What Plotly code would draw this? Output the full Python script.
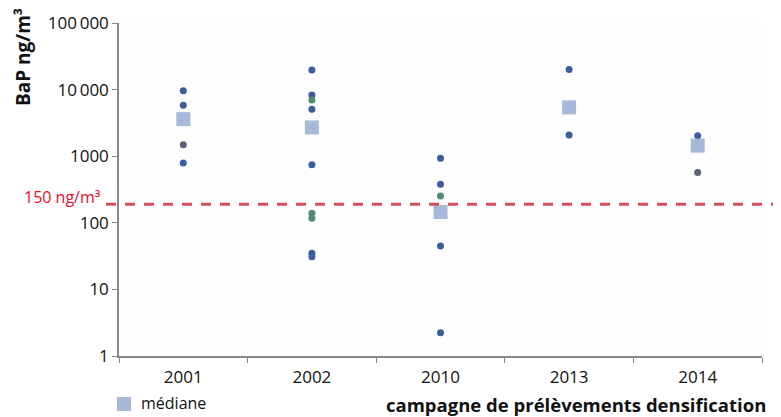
import plotly.graph_objects as go

categories = ["2001", "2002", "2010", "2013", "2014"]

# individual measurements (BaP ng/m3), split by marker colour
blue_x = ["2001", "2001", "2001", "2002", "2002", "2002", "2002", "2002", "2002",
          "2010", "2010", "2010", "2010", "2013", "2013", "2014"]
blue_y = [9600, 5800, 790, 19700, 8300, 5050, 745, 35, 31,
          935, 380, 45, 2.24, 20000, 2080, 2030]
grey_x = ["2001", "2014"]
grey_y = [1490, 570]
green_x = ["2002", "2002", "2002", "2010"]
green_y = [6960, 139, 117, 253]

median_x = ["2001", "2002", "2010", "2013", "2014"]
median_y = [3600, 2700, 145, 5400, 1440]

threshold_line = 190
threshold_label = "150 ng/m³"

y_tickvals = [1, 10, 100, 1000, 10000, 100000]
y_ticktext = ["1", "10", "100", "1000", "10\u2009000", "100\u2009000"]

FONT = "Open Sans"
PW = 643.0   # plot width in px
PH = 333.0   # plot height in px

def px_x(px):
    return (px - 119) / PW

def px_y(py):
    return (356 - py) / PH

fig = go.Figure()
fig.add_trace(go.Scatter(x=blue_x, y=blue_y, mode="markers",
                         marker=dict(color="#3d5c9e", size=7), showlegend=False))
fig.add_trace(go.Scatter(x=grey_x, y=grey_y, mode="markers",
                         marker=dict(color="#5b6275", size=7), showlegend=False))
fig.add_trace(go.Scatter(x=green_x, y=green_y, mode="markers",
                         marker=dict(color="#4f8a72", size=7), showlegend=False))
fig.add_trace(go.Scatter(x=median_x, y=median_y, mode="markers", name="médiane",
                         marker=dict(color="#a7b9d8", size=14, symbol="square"),
                         showlegend=False))

# threshold dashed line
fig.add_shape(type="line", xref="paper", yref="y",
              x0=px_x(106), x1=px_x(778), y0=threshold_line, y1=threshold_line,
              line=dict(color="#d4505f", width=3, dash="10px,9px"))
fig.add_annotation(xref="paper", yref="paper", x=px_x(103), y=px_y(197),
                   text=threshold_label, showarrow=False, xanchor="right",
                   yanchor="middle",
                   font=dict(family=FONT, size=16, color="#e0102a"))

# y title
fig.add_annotation(xref="paper", yref="paper", x=px_x(23), y=px_y(57),
                   text="<b>BaP ng/m³</b>", showarrow=False, textangle=-90,
                   xanchor="center", yanchor="middle",
                   font=dict(family=FONT, size=19, color="#111"))

# x title
fig.add_annotation(xref="paper", yref="paper", x=px_x(768), y=px_y(404),
                   text="<b>campagne de prélèvements densification</b>",
                   showarrow=False, xanchor="right", yanchor="middle",
                   font=dict(family=FONT, size=18.5, color="#111"))

# legend (manual)
fig.add_shape(type="rect", xref="paper", yref="paper",
              x0=px_x(117), x1=px_x(131), y0=px_y(411), y1=px_y(397),
              fillcolor="#a7b9d8", line=dict(width=0))
fig.add_annotation(xref="paper", yref="paper", x=px_x(139), y=px_y(403),
                   text="médiane", showarrow=False, xanchor="left",
                   yanchor="middle", font=dict(family=FONT, size=16, color="#111"))

fig.update_xaxes(type="category", categoryorder="array", categoryarray=categories,
                 tickson="boundaries", ticks="outside", ticklen=5,
                 tickcolor="#888", showline=True, linecolor="#888", linewidth=1.5,
                 showgrid=False, tickfont=dict(family=FONT, size=17, color="#111"),
                 ticklabelstandoff=5, automargin=False,
                 range=[-0.5, 4.5])
fig.update_yaxes(type="log", range=[0, 5], tickvals=y_tickvals, ticktext=y_ticktext,
                 ticks="outside", ticklen=5, tickcolor="#888", showline=True,
                 linecolor="#888", linewidth=1.5, showgrid=False, zeroline=False,
                 automargin=False,
                 tickfont=dict(family=FONT, size=17, color="#111"))

# page body has an 8px margin: figure occupies x 8..781, y 8..417
fig.update_layout(width=773, height=409,
                  margin=dict(l=111, r=19, t=15, b=61),
                  plot_bgcolor="#fdfdfd", paper_bgcolor="white",
                  showlegend=False)

fig.write_html("out.html")
